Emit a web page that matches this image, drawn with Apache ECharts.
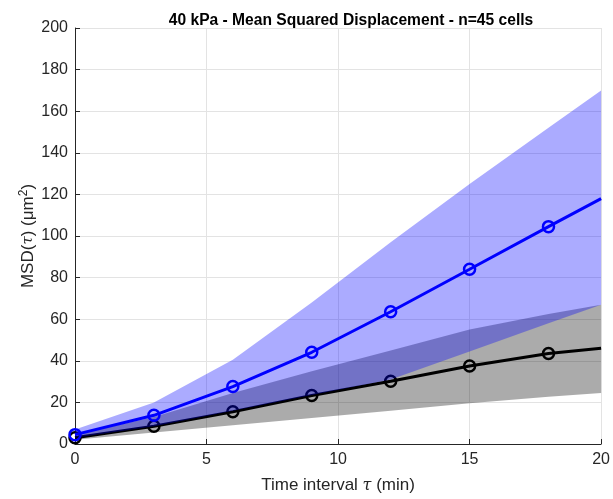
<!DOCTYPE html>
<html>
<head>
<meta charset="utf-8">
<script src="https://cdn.jsdelivr.net/npm/echarts@6/dist/echarts.min.js"></script>
<style>
html,body{margin:0;padding:0;background:#fff;}
#chart{width:613px;height:499px;}
</style>
</head>
<body>
<div id="chart"></div>
<script>
// Time points (min)
var times = [0, 3, 6, 9, 12, 15, 18, 20];
// Blue series mean MSD and band
var blueMean  = [4.5, 13.8, 27.6, 44.1, 63.6, 84, 104.5, 118];
var blueUpper = [7, 20, 40.5, 68, 97, 125, 152, 170];
var blueLower = [3, 8.5, 16, 23.5, 31, 44.5, 58, 67];
// Black series mean MSD and band
var blackMean  = [3, 8.5, 15.5, 23.3, 30.2, 37.5, 43.5, 46];
var blackUpper = [4.5, 13, 24.5, 35, 45, 55, 62.5, 67];
var blackLower = [2, 5.5, 9, 12.5, 16, 19.6, 22.7, 24.5];
// Markers shown at these times
var markerTimes = [0, 3, 6, 9, 12, 15, 18];
var xTicks = [0, 5, 10, 15, 20];
var yTicks = [0, 20, 40, 60, 80, 100, 120, 140, 160, 180, 200];

function lineData(ys) {
  return times.map(function (t, i) {
    var show = markerTimes.indexOf(t) >= 0;
    return { value: [t, ys[i]], symbol: show ? 'circle' : 'none' };
  });
}
function bandSeries(up, lo, color, z) {
  return {
    type: 'custom', z: z, silent: true, clip: true,
    data: [[times[0], up[0]]],
    encode: { x: 0, y: 1 },
    renderItem: function (params, api) {
      var pts = [];
      for (var i = 0; i < times.length; i++) pts.push(api.coord([times[i], up[i]]));
      for (var j = times.length - 1; j >= 0; j--) pts.push(api.coord([times[j], lo[j]]));
      return { type: 'polygon', shape: { points: pts }, style: { fill: color, stroke: null } };
    }
  };
}

var textColor = '#262626';
var font = 'Liberation Sans, Arial, Helvetica, sans-serif';

var chart = echarts.init(document.getElementById('chart'), null, { renderer: 'canvas' });
chart.setOption({
  animation: false,
  backgroundColor: '#ffffff',
  title: {
    text: '40 kPa - Mean Squared Displacement - n=45 cells',
    left: 346, top: 8, textAlign: 'center',
    textStyle: { fontFamily: font, fontSize: 15.6, fontWeight: 'bold', color: '#000' }
  },
  grid: { left: 75, right: 10, top: 28, bottom: 55, containLabel: false },
  xAxis: {
    type: 'value', min: 0, max: 20, interval: 5,
    name: '{a|Time interval }{t|τ}{a| (min)}',
    nameLocation: 'middle', nameGap: 33, nameMoveOverlap: false,
    nameTextStyle: { rich: {
      a: { fontFamily: font, fontSize: 17, color: textColor },
      t: { fontFamily: 'DejaVu Serif, serif', fontStyle: 'italic', fontSize: 16, color: textColor }
    } },
    axisLine: { show: true, lineStyle: { color: textColor, width: 1 } },
    axisTick: { show: true, inside: true, length: 5, lineStyle: { color: textColor } },
    axisLabel: { fontFamily: font, fontSize: 16, color: textColor, margin: 8 },
    splitLine: { show: true, lineStyle: { color: '#e3e3e3', width: 1 } }
  },
  yAxis: {
    type: 'value', min: 0, max: 200, interval: 20,
    name: '{a|MSD(}{t|τ}{a|) (μm}{s|2}{a|)}',
    nameLocation: 'middle', nameGap: 36, nameRotate: 90, nameMoveOverlap: false,
    nameTextStyle: { rich: {
      a: { fontFamily: font, fontSize: 17, color: textColor },
      t: { fontFamily: 'DejaVu Serif, serif', fontStyle: 'italic', fontSize: 15, color: textColor },
      s: { fontFamily: font, fontSize: 12, color: textColor, verticalAlign: 'top', padding: [0, 0, 9, 0] }
    } },
    axisLine: { show: true, lineStyle: { color: textColor, width: 1 } },
    axisTick: { show: true, inside: true, length: 5, lineStyle: { color: textColor } },
    axisLabel: { fontFamily: font, fontSize: 16, color: textColor, margin: 7 },
    splitLine: { show: true, lineStyle: { color: '#e3e3e3', width: 1 } }
  },
  series: [
    bandSeries(blackUpper, blackLower, 'rgba(0,0,0,0.33)', 2),
    { type: 'line', data: lineData(blackMean), symbolSize: 11,
      lineStyle: { color: '#000', width: 3 },
      itemStyle: { color: 'rgba(0,0,0,0)', borderColor: '#000', borderWidth: 2.5 }, z: 3 },
    bandSeries(blueUpper, blueLower, 'rgba(0,0,255,0.33)', 4),
    { type: 'line', data: lineData(blueMean), symbolSize: 11,
      lineStyle: { color: '#0000ff', width: 3 },
      itemStyle: { color: 'rgba(0,0,0,0)', borderColor: '#0000ff', borderWidth: 2.5 }, z: 5 }
  ]
});
</script>
</body>
</html>
